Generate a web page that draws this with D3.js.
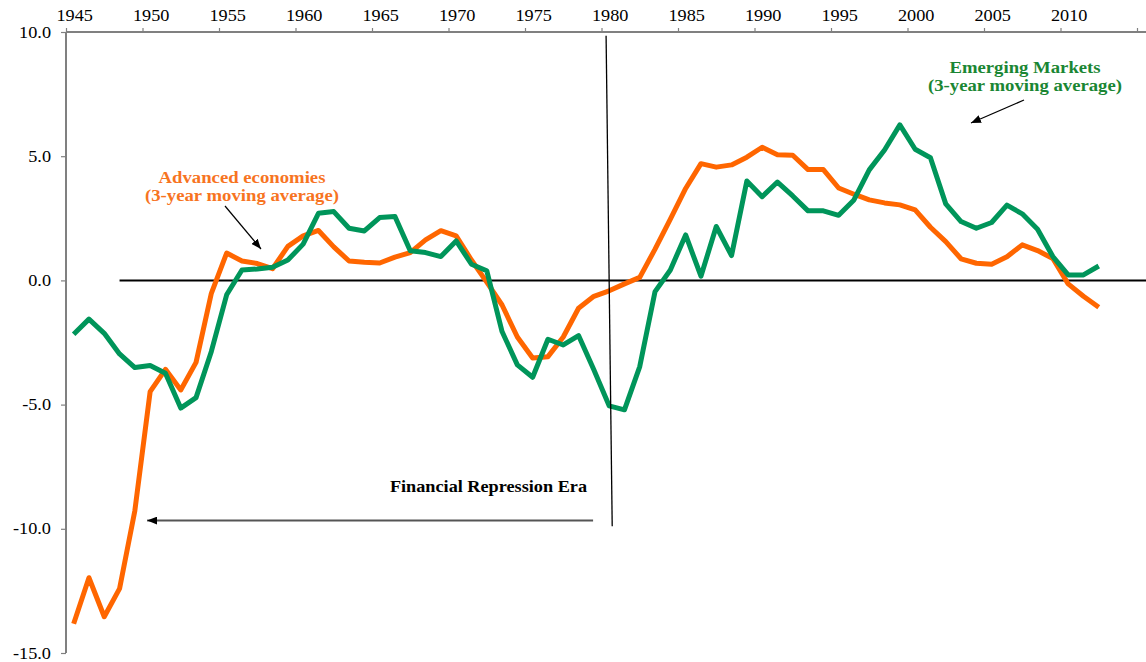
<!DOCTYPE html>
<html>
<head>
<meta charset="utf-8">
<script src="https://cdn.jsdelivr.net/npm/d3@7"></script>
<style>
  body { margin: 0; background: #fff; }
  svg { display: block; }
  text { font-family: "Liberation Serif", "Times New Roman", serif; }
</style>
</head>
<body>
<div id="chart"></div>
<script>
// categories
let years = [1945, 1946, 1947, 1948, 1949, 1950, 1951, 1952, 1953, 1954,
    1955, 1956, 1957, 1958, 1959, 1960, 1961, 1962, 1963, 1964,
    1965, 1966, 1967, 1968, 1969, 1970, 1971, 1972, 1973, 1974,
    1975, 1976, 1977, 1978, 1979, 1980, 1981, 1982, 1983, 1984,
    1985, 1986, 1987, 1988, 1989, 1990, 1991, 1992, 1993, 1994,
    1995, 1996, 1997, 1998, 1999, 2000, 2001, 2002, 2003, 2004,
    2005, 2006, 2007, 2008, 2009, 2010, 2011, 2012];

// Advanced economies (3-year moving average)
let advanced = [-13.82, -11.97, -13.54, -12.41, -9.27, -4.48, -3.58, -4.41, -3.30, -0.52,
    1.10, 0.78, 0.68, 0.47, 1.37, 1.79, 2.01, 1.35, 0.78, 0.73,
    0.70, 0.94, 1.12, 1.63, 2.00, 1.79, 0.82, -0.07, -0.99, -2.28,
    -3.12, -3.07, -2.28, -1.12, -0.64, -0.42, -0.14, 0.12, 1.26, 2.47,
    3.70, 4.70, 4.56, 4.65, 4.96, 5.36, 5.06, 5.04, 4.46, 4.46,
    3.72, 3.47, 3.24, 3.12, 3.04, 2.84, 2.14, 1.56, 0.87, 0.69,
    0.65, 0.95, 1.43, 1.20, 0.88, -0.14, -0.64, -1.08];

// Emerging Markets (3-year moving average)
let emerging = [-2.17, -1.56, -2.13, -2.96, -3.51, -3.43, -3.74, -5.14, -4.72, -2.86,
    -0.58, 0.42, 0.46, 0.53, 0.82, 1.46, 2.70, 2.77, 2.10, 1.99,
    2.53, 2.57, 1.19, 1.12, 0.96, 1.59, 0.65, 0.39, -2.06, -3.40,
    -3.90, -2.37, -2.60, -2.22, -3.60, -5.05, -5.21, -3.47, -0.45, 0.42,
    1.83, 0.17, 2.17, 1.00, 4.00, 3.37, 3.96, 3.40, 2.80, 2.80,
    2.62, 3.24, 4.45, 5.25, 6.26, 5.28, 4.94, 3.08, 2.37, 2.10,
    2.33, 3.03, 2.68, 2.06, 0.96, 0.22, 0.22, 0.58];

// tick labels
let xTickYears = [1945, 1950, 1955, 1960, 1965, 1970, 1975, 1980, 1985, 1990, 1995, 2000, 2005, 2010];
let xTickMarks = [1945, 1950, 1955, 1960, 1965, 1970, 1975, 1980, 1985, 1990, 1995, 2000, 2005, 2010, 2015];
let yTicks = [10, 5, 0, -5, -10, -15];

let width = 1146, height = 662;
let orange = '#ff6600';
let green = '#00955a';

let svg = d3.select('#chart')
    .append('svg')
    .attr('width', width)
    .attr('height', height);

// each year is a slot, point sits in the middle of it
let x = d3.scaleLinear().domain([1945, 2015]).range([66, 1137]);
let y = d3.scaleLinear().domain([-15, 10]).range([653, 32]);
let mid = yr => x(yr + 0.5);

// x axis on top
let xAxis = svg.append('g')
    .attr('transform', `translate(0, ${y(10)})`)
    .call(d3.axisTop(x).tickValues(xTickMarks).tickSize(4).tickFormat(''));
xAxis.select('.domain').remove();
xAxis.selectAll('line').attr('stroke', '#808080').attr('stroke-width', 1.2);

svg.append('line')
    .attr('x1', x(1945)).attr('x2', width)
    .attr('y1', y(10)).attr('y2', y(10))
    .attr('stroke', '#808080')
    .attr('stroke-width', 2);

svg.selectAll('.xlab')
    .data(xTickYears)
    .enter()
    .append('text')
    .attr('class', 'xlab')
    .attr('transform', d => `translate(${mid(d) + 1}, 21) scale(1.14, 1)`)
    .attr('text-anchor', 'middle')
    .attr('font-size', 16)
    .attr('fill', '#000')
    .text(d => d);

// y axis on the left
let yAxis = svg.append('g')
    .attr('transform', `translate(${x(1945)}, 0)`)
    .call(d3.axisLeft(y).tickValues(yTicks).tickSize(5).tickFormat(''));
yAxis.select('.domain').remove();
yAxis.selectAll('line').attr('stroke', '#808080').attr('stroke-width', 1.2);

svg.append('line')
    .attr('x1', x(1945)).attr('x2', x(1945))
    .attr('y1', y(10)).attr('y2', y(-15))
    .attr('stroke', '#808080')
    .attr('stroke-width', 2);

svg.selectAll('.ylab')
    .data(yTicks)
    .enter()
    .append('text')
    .attr('class', 'ylab')
    .attr('transform', d => `translate(51, ${y(d) + 5.5}) scale(1.14, 1)`)
    .attr('text-anchor', 'end')
    .attr('font-size', 16)
    .attr('fill', '#000')
    .text(d => d3.format('.1f')(d).replace('\u2212', '-'));

// zero line
svg.append('line')
    .attr('x1', mid(1948)).attr('x2', width)
    .attr('y1', y(0)).attr('y2', y(0))
    .attr('stroke', '#000')
    .attr('stroke-width', 2);

// the two series
let line = d3.line()
    .x((d, i) => mid(years[i]))
    .y(d => y(d));

svg.append('path')
    .datum(advanced)
    .attr('d', line)
    .attr('fill', 'none')
    .attr('stroke', orange)
    .attr('stroke-width', 5)
    .attr('stroke-linejoin', 'round');

svg.append('path')
    .datum(emerging)
    .attr('d', line)
    .attr('fill', 'none')
    .attr('stroke', green)
    .attr('stroke-width', 5)
    .attr('stroke-linejoin', 'round');

// arrow heads
let defs = svg.append('defs');
defs.append('marker')
    .attr('id', 'head')
    .attr('viewBox', '0 0 10 8')
    .attr('refX', 10)
    .attr('refY', 4)
    .attr('markerWidth', 10)
    .attr('markerHeight', 8)
    .attr('markerUnits', 'userSpaceOnUse')
    .attr('orient', 'auto')
    .append('path')
    .attr('d', 'M0,0 L10,4 L0,8 Z')
    .attr('fill', '#000');

// 1980 divider
svg.append('line')
    .attr('x1', x(1980.3)).attr('y1', y(9.85))
    .attr('x2', x(1980.7)).attr('y2', y(-9.9))
    .attr('stroke', '#000')
    .attr('stroke-width', 1.3);

// Financial Repression Era arrow
svg.append('line')
    .attr('x1', x(1979.45)).attr('y1', y(-9.67))
    .attr('x2', x(1950.3)).attr('y2', y(-9.67))
    .attr('stroke', '#555')
    .attr('stroke-width', 2)
    .attr('marker-end', 'url(#head)');

svg.append('text')
    .attr('transform', `translate(587, 492) scale(1.14, 1)`)
    .attr('text-anchor', 'end')
    .attr('font-size', 16)
    .attr('font-weight', 'bold')
    .attr('fill', '#000')
    .text('Financial Repression Era');

// series labels
function label(cx, cy, lines, color) {
    lines.forEach((t, i) => {
        svg.append('text')
            .attr('transform', `translate(${cx}, ${cy + i * 18}) scale(1.17, 1)`)
            .attr('text-anchor', 'middle')
            .attr('font-size', 16)
            .attr('font-weight', 'bold')
            .attr('fill', color)
            .text(t);
    });
}

label(242, 183, ['Advanced economies', '(3-year moving average)'], '#f7741f');
label(1025, 73, ['Emerging Markets', '(3-year moving average)'], '#1a8633');

svg.append('line')
    .attr('x1', 225).attr('y1', 206)
    .attr('x2', 261).attr('y2', 249)
    .attr('stroke', '#000')
    .attr('stroke-width', 1.2)
    .attr('marker-end', 'url(#head)');

svg.append('line')
    .attr('x1', 1024).attr('y1', 100)
    .attr('x2', 971).attr('y2', 123)
    .attr('stroke', '#000')
    .attr('stroke-width', 1.2)
    .attr('marker-end', 'url(#head)');
</script>
</body>
</html>
